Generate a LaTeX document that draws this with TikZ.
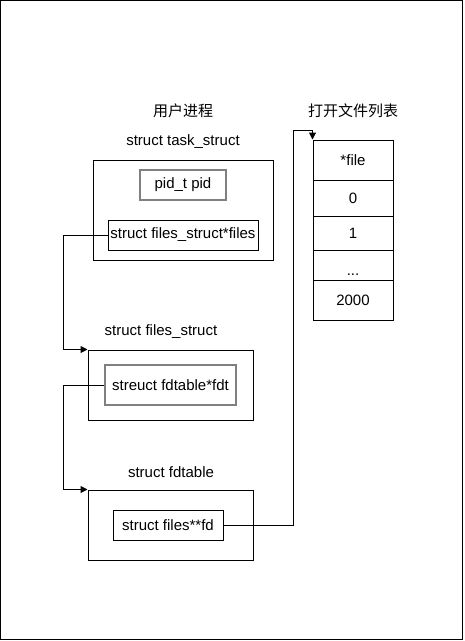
\documentclass[tikz,border=0pt]{standalone}
\usepackage{fontspec}
\setmainfont{Liberation Sans}
\newfontfamily\cjk{Noto Sans CJK SC}
\usetikzlibrary{arrows.meta}
\tikzset{
  every node/.style={font=\fontsize{15}{18}\selectfont},
  box/.style={draw, line width=1pt, inner sep=0pt},
  ptr/.style={box, minimum height=30pt},
  gptr/.style={ptr, draw=gray, line width=1.6pt},
  cell/.style={box, minimum width=80pt},
  arr/.style={line width=1pt, -{Triangle[length=7pt,width=7pt]}},
}
\begin{document}
\begin{tikzpicture}[x=1pt,y=-1pt]
                \useasboundingbox (0,0) rectangle (464,641);
                \draw[line width=1pt] (0.5,0.5) rectangle (462.5,639.5);

                % 用户进程
                \node at (183,111) {\cjk 用户进程};
                \node at (183,142) {struct task\_struct};
                \node[box, minimum width=180pt, minimum height=100pt] (task) at (183,210) {};
                \node[gptr, minimum width=86pt] (pid) at (183,185) {pid\_t pid};
                \node[ptr, minimum width=150pt] (files) at (183,235) {struct files\_struct*files};

                \node at (161,332) {struct files\_struct};
                \node[box, minimum width=165pt, minimum height=70pt] (fstruct) at (170.5,385) {};
                \node[gptr, minimum width=131pt, minimum height=40pt] (fdt) at (170.5,385) {streuct fdtable*fdt};

                \node at (171,472) {struct fdtable};
                \node[box, minimum width=165pt, minimum height=70pt] (fdtable) at (170.5,525) {};
                \node[ptr, minimum width=110pt] (fd) at (168,525) {struct files**fd};

                % 打开文件列表
                \node at (353,111) {\cjk 打开文件列表};
                \node[cell, minimum height=40pt] (c0) at (353,160) {*file};
                \node[cell, minimum height=36pt] (c1) at (353,198) {0};
                \node[cell, minimum height=34pt] (c2) at (353,233) {1};
                \node[cell, minimum height=30pt, text height=20pt, text depth=0pt] (c3) at (353,265) {...};
                \node[cell, minimum height=40pt] (c4) at (353,300) {2000};

                \coordinate (lft) at (63,0);
                \coordinate (rgt) at (293,130);
                \draw[arr] (files.west) -- (files.west -| lft) |- (fstruct.north west);
                \draw[arr] (fdt.west) -- (fdt.west -| lft) |- (fdtable.north west);
                \draw[arr] (fd.east) -| (rgt) -| (c0.north west);
            \end{tikzpicture}
\end{document}
